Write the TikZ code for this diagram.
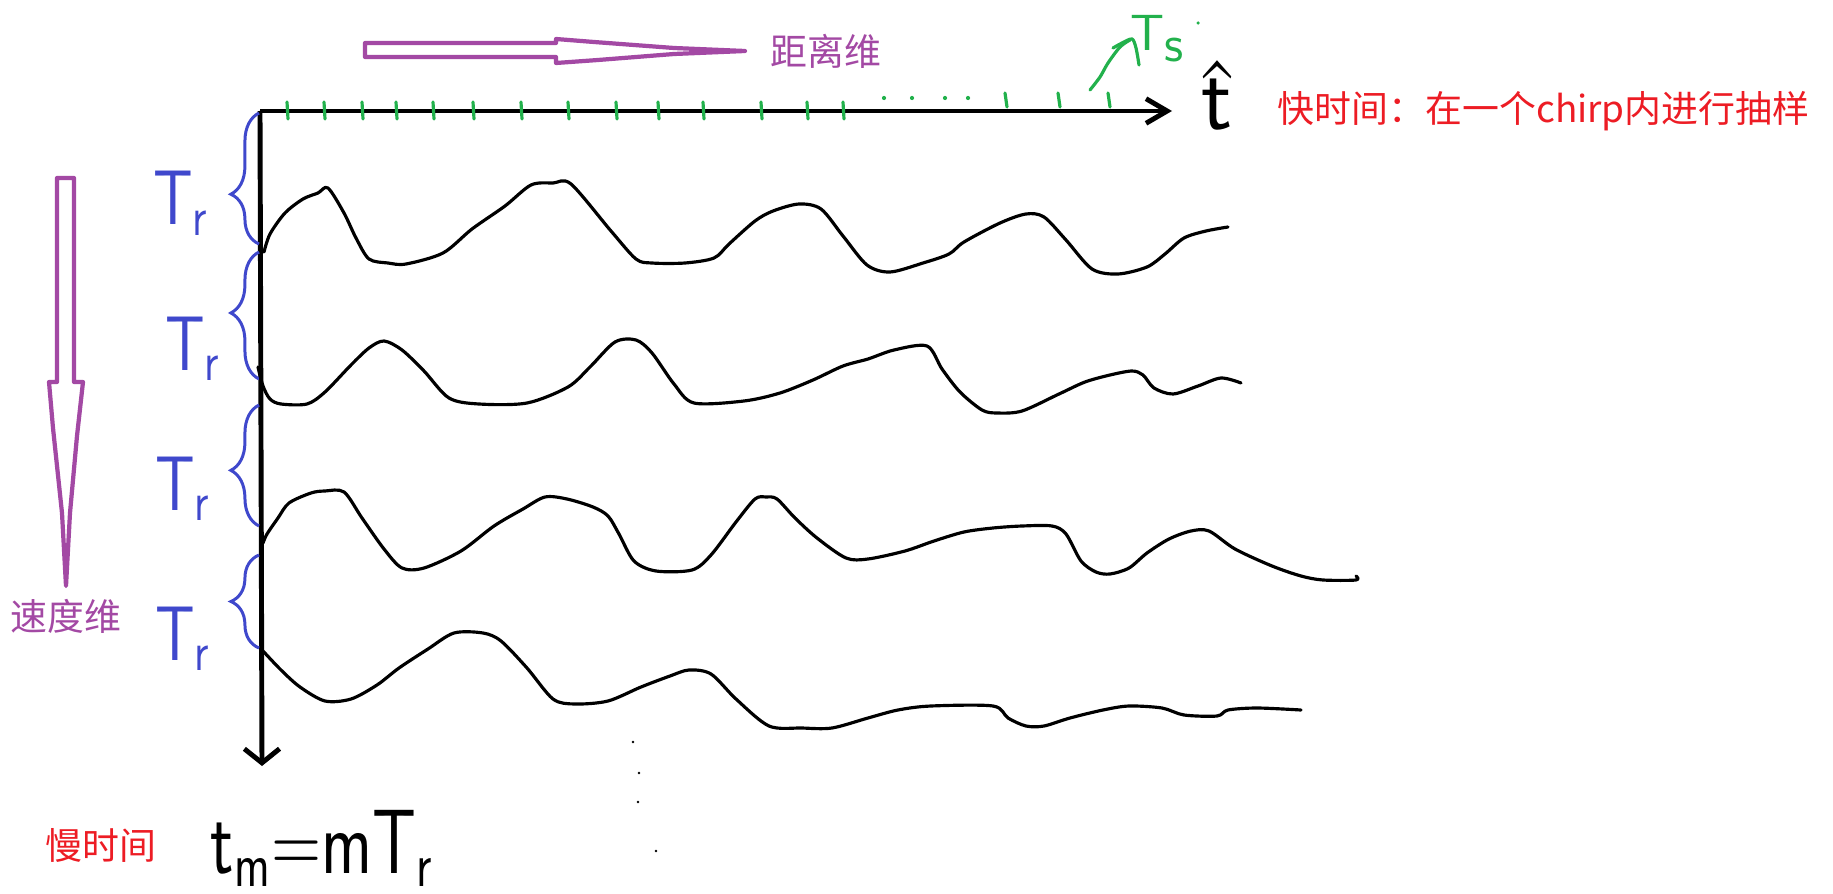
\documentclass[tikz,border=0pt]{standalone}
\usepackage{fontspec}
\newfontfamily\cjk{Noto Sans CJK SC}
\usepackage{tikz}
\usetikzlibrary{arrows.meta, positioning, decorations.pathreplacing}
\definecolor{paintpurple}{HTML}{A349A4}
\definecolor{paintred}{HTML}{ED1C24}
\definecolor{paintblue}{HTML}{3F48CC}
\definecolor{paintgreen}{HTML}{22B14C}

\begin{document}
\begin{tikzpicture}[
  x=0.01cm, y=-0.01cm,
  axisline/.style={line width=1.4pt},
  wave/.style={line width=0.9pt, line join=round, line cap=round},
  tickmark/.style={draw=paintgreen, line width=0.9pt, line cap=round},
  trbrace/.style={draw=paintblue, line width=0.85pt, decorate},
  hollowarrow/.style={draw=paintpurple, line width=1.2pt, line join=round},
  dimlabel/.style={font=\cjk\fontsize{10.5}{12}\selectfont, text=paintpurple, inner sep=0pt},
  notelbl/.style={font=\cjk\fontsize{10.5}{12}\selectfont, text=paintred, inner sep=0pt},
  trlabel/.style={font=\sffamily\fontsize{22}{22}\selectfont, text=paintblue, inner sep=0pt, anchor=base},
  handlbl/.style={font=\sffamily\fontsize{26}{26}\selectfont, inner sep=0pt, anchor=base}
]
\fill[white] (0,0) rectangle (1833,894);

\coordinate (O) at (260,111);
\coordinate (tend) at (1172,111);
\coordinate (mend) at (262,766);
\draw[axisline, -{Straight Barb[length=6pt, width=7pt]}] (O) -- (tend);
\draw[axisline, -{Straight Barb[length=4pt, width=10pt]}] (O) -- (mend);

\foreach \x in {287,324,362,396,433,473,521,568,616,658,703,761,807,843}
  \draw[tickmark] (\x,102) -- (\x+1,119);
\foreach \x in {1005,1058,1108}
  \draw[tickmark] (\x,93) -- (\x+2,107);
\foreach \x in {884,912,945,968}
  \fill[paintgreen] (\x,98) circle (0.6pt);
\fill[paintgreen] (1198,23) circle (0.5pt);
\draw[tickmark] plot[smooth] coordinates {(1090,90) (1100,77) (1108,63) (1120,47) (1130,40)};
\draw[tickmark] plot[smooth] coordinates {(1113,48) (1122,43) (1132,39) (1136,48) (1139,65)};
\node[font=\sffamily\fontsize{14.5}{14.5}\selectfont, text=paintgreen, inner sep=0pt, anchor=base] (tslbl) at (1157,51) {T\raisebox{-3pt}{s}};

\node[handlbl] (that) at (1217,130) {\ooalign{\hfil t\hfil\cr\hfil\raisebox{-0.06em}{\scalebox{0.55}[1.1]{\textasciicircum}}\hfil\cr}};
\node[notelbl, anchor=west] (fastlbl) at (1277,111) {快时间：在一个chirp内进行抽样};

\draw[hollowarrow] (365,43) -- (556,43) -- (556,39) -- (594,42) -- (674,48) -- (745,51)
  -- (674,54) -- (598,60) -- (556,63) -- (556,57) -- (365,57) -- cycle;
\coordinate (rtip) at (745,51);
\node[dimlabel, right=2.5mm of rtip] (rangelbl) {距离维};

\draw[hollowarrow] (57,178) -- (74,178) -- (74,382) -- (83,382) -- (77,436) -- (70,513) -- (66,586)
  -- (62,513) -- (53,428) -- (49,382) -- (57,382) -- cycle;
\coordinate (vtip) at (66,586);
\node[dimlabel, below=1.3mm of vtip] (velolbl) {速度维};

\foreach \top/\bot/\asp/\lx/\ly [count=\i] in {113/244/0.38/181/225, 252/379/0.52/193/370, 405/526/0.46/183/510, 555/648/0.5/183/660} {
  \draw[trbrace, decoration={brace, amplitude=8pt, aspect=\asp}] (259,\bot) -- (259,\top);
  \node[trlabel] (tr\i) at (\lx,\ly) {\scalebox{0.8}[1]{T\textsubscript{r}}};
}

\draw[wave] plot[smooth, tension=0.5] coordinates {(264,252) (270,234) (285,213) (303,199) (318,193) (328,188) (344,213) (356,238) (369,259) (388,263) (406,264) (443,253) (472,229) (505,206) (531,185) (553,183) (571,184) (611,231) (636,259) (652,263) (685,263) (714,258) (729,244) (755,221) (773,211) (799,204) (821,209) (843,236) (867,265) (890,272) (923,263) (949,254) (964,242) (1000,223) (1026,214) (1044,217) (1066,240) (1092,269) (1118,274) (1147,267) (1165,254) (1184,238) (1206,231) (1228,227)};
\draw[wave] plot[smooth, tension=0.5] coordinates {(258,367) (263,386) (270,399) (281,404) (307,404) (325,392) (351,365) (369,348) (384,341) (402,350) (424,371) (449,398) (479,404) (527,403) (568,387) (590,367) (615,342) (636,340) (652,353) (674,384) (694,403) (744,401) (780,393) (813,380) (843,366) (868,359) (894,350) (927,346) (942,369) (960,392) (982,410) (997,413) (1022,411) (1059,394) (1085,382) (1110,375) (1132,371) (1143,375) (1154,388) (1173,394) (1198,386) (1221,378) (1241,383)};
\draw[wave] plot[smooth, tension=0.5] coordinates {(263,543) (267,534) (278,518) (289,503) (311,493) (325,491) (344,492) (362,518) (384,549) (402,568) (424,568) (461,551) (494,526) (523,509) (545,497) (567,499) (593,507) (608,516) (619,534) (634,561) (656,571) (692,570) (711,555) (736,522) (755,499) (766,497) (777,499) (795,518) (817,538) (846,558) (868,559) (905,551) (934,541) (964,532) (993,528) (1022,526) (1052,526) (1066,534) (1081,561) (1096,572) (1110,574) (1129,568) (1147,553) (1169,539) (1191,531) (1209,531) (1235,549) (1272,566) (1301,576) (1323,580) (1356,580) (1356,576)};
\draw[wave] plot[smooth, tension=0.5] coordinates {(263,651) (281,670) (300,687) (325,701) (351,699) (377,685) (399,668) (428,649) (454,633) (483,633) (501,641) (527,668) (553,699) (575,704) (608,701) (641,687) (670,676) (689,670) (711,674) (736,699) (769,726) (802,728) (832,728) (868,718) (898,710) (931,706) (993,706) (1008,718) (1026,726) (1044,726) (1070,718) (1103,710) (1129,706) (1162,708) (1184,715) (1217,716) (1228,710) (1257,708) (1301,710)};

\foreach \x/\y in {633/742, 639/773, 638/802, 656/851}
  \fill (\x,\y) circle (0.4pt);

\node[notelbl] (slowlbl) at (101,845) {慢时间};
\node[handlbl] (tmeq) at (322,873) {\scalebox{0.75}[1]{t\textsubscript{m}=mT\textsubscript{r}}};
\end{tikzpicture}
\end{document}
